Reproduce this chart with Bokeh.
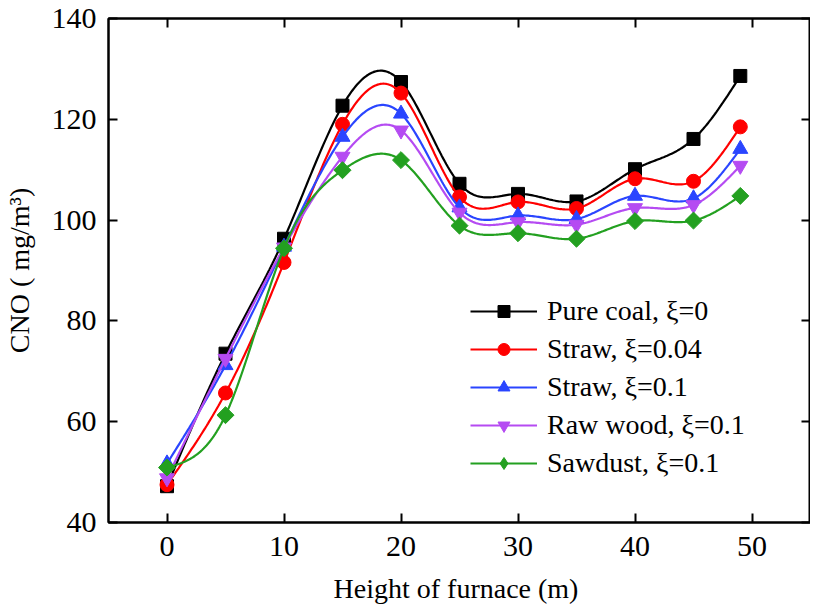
import numpy as np
from bokeh.plotting import figure
from bokeh.models import LinearAxis, Range1d, FixedTicker, Legend
from bokeh.embed import file_html
from bokeh.resources import INLINE

# ---- data ----
height = [0, 5, 10, 15, 20, 25, 30, 35, 40, 45, 49]
pure_coal = [47.2, 73.5, 96.3, 122.7, 127.4, 107.2, 105.2, 103.7, 110.1, 116.1, 128.6]
straw_004 = [47.5, 65.7, 91.6, 119.0, 125.2, 104.6, 103.6, 102.3, 108.2, 107.7, 118.5]
straw_01 = [51.7, 71.2, 94.7, 116.5, 121.1, 102.5, 100.9, 100.2, 104.8, 104.3, 114.1]
raw_wood = [48.8, 72.5, 94.6, 112.6, 117.8, 101.5, 99.6, 99.1, 102.4, 103.0, 110.8]
sawdust = [50.9, 61.3, 94.4, 109.9, 111.9, 98.9, 97.4, 96.3, 99.8, 99.9, 104.8]

labels = ["Pure coal, ξ=0", "Straw, ξ=0.04", "Straw, ξ=0.1", "Raw wood, ξ=0.1", "Sawdust, ξ=0.1"]
series = [pure_coal, straw_004, straw_01, raw_wood, sawdust]
colors = ["#000000", "#FF0000", "#2A45FF", "#B54BF2", "#23A020"]
markers = ["square", "circle", "triangle", "inverted_triangle", "square"]
legend_markers = ["square", "circle", "triangle", "inverted_triangle", "diamond"]
angles = [0, 0, 0, 0, np.pi / 4]
sizes = [13, 14, 15, 15, 12]
legend_sizes = [13, 14, 15, 15, 19]

x_ticks = [0, 10, 20, 30, 40, 50]
y_ticks = [40, 60, 80, 100, 120, 140]


def natural_spline(xs, ys, n=40):
    xs = np.asarray(xs, float)
    ys = np.asarray(ys, float)
    m = len(xs)
    h = np.diff(xs)
    A = np.zeros((m, m))
    b = np.zeros(m)
    A[0, 0] = 1
    A[-1, -1] = 1
    for i in range(1, m - 1):
        A[i, i - 1] = h[i - 1]
        A[i, i] = 2 * (h[i - 1] + h[i])
        A[i, i + 1] = h[i]
        b[i] = 6 * ((ys[i + 1] - ys[i]) / h[i] - (ys[i] - ys[i - 1]) / h[i - 1])
    M = np.linalg.solve(A, b)
    outx, outy = [], []
    for i in range(m - 1):
        t = np.linspace(xs[i], xs[i + 1], n, endpoint=(i == m - 2))
        a = xs[i + 1] - t
        c = t - xs[i]
        yy = (M[i] * a ** 3 + M[i + 1] * c ** 3) / (6 * h[i]) \
            + (ys[i] / h[i] - M[i] * h[i] / 6) * a \
            + (ys[i + 1] / h[i] - M[i + 1] * h[i] / 6) * c
        outx.extend(t)
        outy.extend(yy)
    return outx, outy


FONT = "Liberation Serif"

p = figure(frame_width=702, frame_height=504, output_backend="svg", toolbar_location=None,
           x_range=Range1d(-5, 55), y_range=Range1d(40, 140),
           min_border_left=104, min_border_right=0, min_border_top=18, min_border_bottom=75)

p.xgrid.visible = False
p.ygrid.visible = False
p.outline_line_color = "black"
p.outline_line_width = 2
p.outline_line_alpha = 1

for ax in (p.xaxis[0], p.yaxis[0]):
    ax.axis_line_width = 2
    ax.major_tick_line_width = 2
    ax.major_tick_in = 9
    ax.major_tick_out = 0
    ax.minor_tick_line_color = None
    ax.major_label_text_font = FONT
    ax.major_label_text_font_size = "30px"
    ax.major_label_text_color = "black"
    ax.axis_label_text_font = FONT
    ax.axis_label_text_font_size = "28px"
    ax.axis_label_text_font_style = "normal"
    ax.axis_label_text_color = "black"

p.xaxis[0].ticker = FixedTicker(ticks=x_ticks)
p.yaxis[0].ticker = FixedTicker(ticks=y_ticks)
p.xaxis[0].major_label_standoff = 14
p.yaxis[0].major_label_standoff = 12
p.xaxis[0].axis_label = "Height of furnace  (m)"
p.yaxis[0].axis_label = "CNO ( mg/m³)"
p.xaxis[0].axis_label_standoff = 14
p.yaxis[0].axis_label_standoff = 14

top = LinearAxis(ticker=FixedTicker(ticks=x_ticks),
                 major_label_overrides={t: "" for t in x_ticks})
right = LinearAxis(ticker=FixedTicker(ticks=y_ticks),
                   major_label_overrides={t: "" for t in y_ticks})
for ax in (top, right):
    ax.major_label_text_font_size = "1px"
    ax.major_label_standoff = 0
    ax.axis_line_width = 2
    ax.major_tick_line_width = 2
    ax.major_tick_in = 9
    ax.major_tick_out = 0
    ax.minor_tick_line_color = None
p.add_layout(top, "above")
p.add_layout(right, "right")

items = []
for lab, ys, col, mk, lmk, ang, sz, lsz in zip(labels, series, colors, markers,
                                                legend_markers, angles, sizes, legend_sizes):
    sx, sy = natural_spline(height, ys)
    r1 = p.line(sx, sy, line_color=col, line_width=2.2)
    r2 = p.scatter(height, ys, marker=mk, size=sz, angle=ang,
                   fill_color=col, line_color=col)
    if ang == 0:
        items.append((lab, [r1, r2]))
    else:
        # legend-only swatch (NaN position, never drawn in the plot area)
        r_leg = p.scatter(x=[np.nan], y=[np.nan], marker=lmk, size=lsz,
                          fill_color=col, line_color=col)
        items.append((lab, [r1, r_leg]))

legend = Legend(items=items, location=(362, 43))
legend.label_text_font = FONT
legend.label_text_font_size = "28px"
legend.label_text_color = "black"
legend.glyph_width = 67
legend.glyph_height = 30
legend.label_height = 30
legend.label_standoff = 10
legend.spacing = 6
legend.padding = 0
legend.margin = 0
legend.border_line_alpha = 0
legend.background_fill_alpha = 0
p.add_layout(legend, "center")

open("out.html", "w").write(file_html(p, INLINE))
